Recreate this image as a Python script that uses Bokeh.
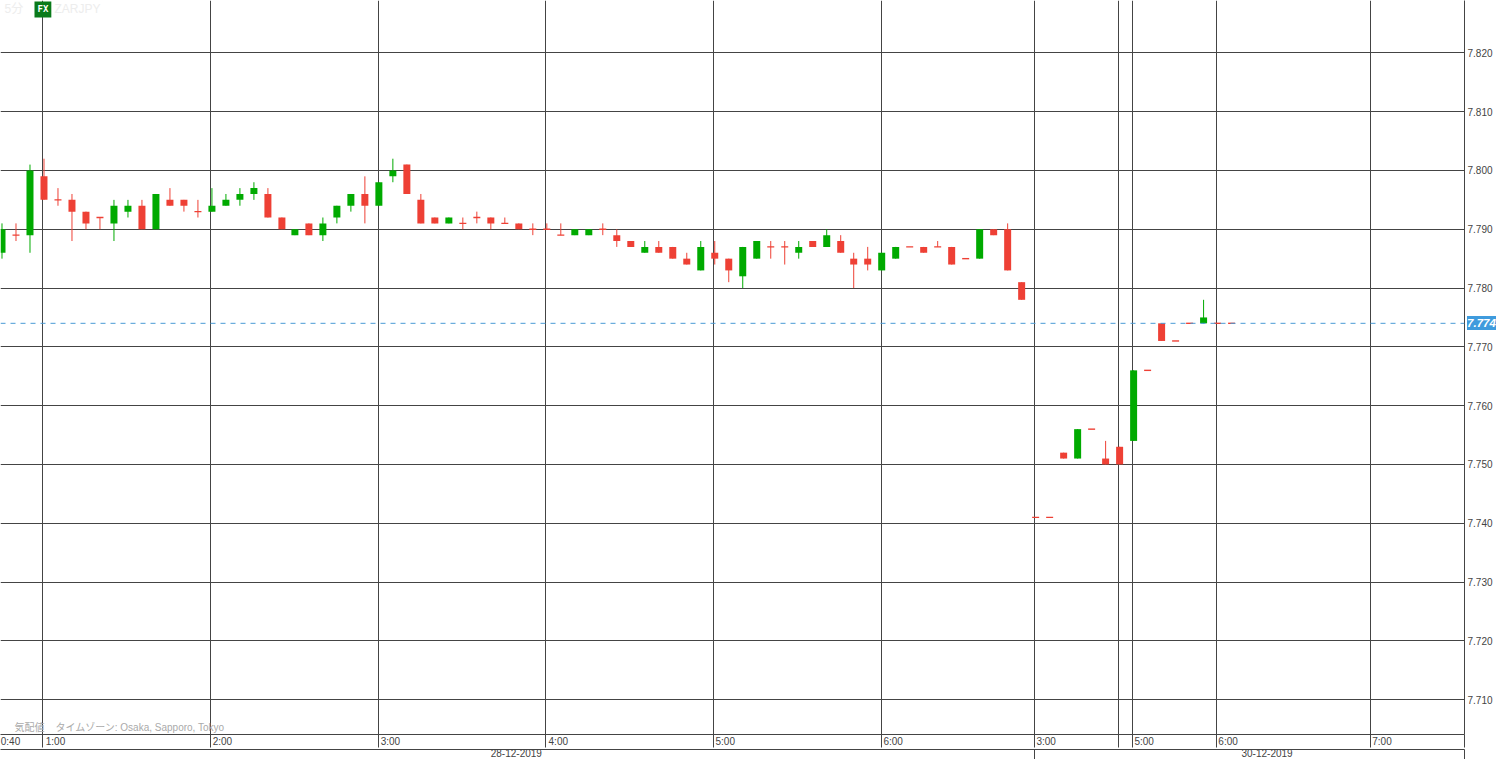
from bokeh.embed import file_html
from bokeh.resources import INLINE
from bokeh.plotting import figure
from bokeh.layouts import column
from bokeh.models import Div, LinearAxis, Range1d, FixedTicker, Grid, Label, Span, ColumnDataSource, PrintfTickFormatter

# candle values
opens = [7.786,7.789,7.789,7.799,7.795,7.795,7.793,7.792,7.791,7.793,7.794,7.790,7.795,7.795,7.793,7.793,7.794,7.795,7.796,7.796,
         7.792,7.789,7.791,7.789,7.792,7.794,7.796,7.794,7.799,7.801,7.795,7.792,7.791,7.791,7.792,7.792,7.791,7.791,7.790,7.790,
         7.789,7.789,7.789,7.790,7.789,7.788,7.786,7.787,7.787,7.785,7.783,7.786,7.785,7.782,7.785,7.787,7.787,7.786,7.788,7.787,
         7.788,7.785,7.785,7.783,7.785,7.787,7.787,7.787,7.787,7.785,7.785,7.790,7.790,7.781,7.741,7.741,7.752,7.751,7.756,7.751,
         7.753,7.754,7.766,7.774,7.771,7.774,7.774,7.774,7.774]
closes = [7.790,7.789,7.800,7.795,7.795,7.793,7.791,7.792,7.794,7.794,7.790,7.796,7.794,7.794,7.793,7.794,7.795,7.796,7.797,7.792,
          7.790,7.790,7.789,7.791,7.794,7.796,7.794,7.798,7.800,7.796,7.791,7.791,7.792,7.791,7.792,7.791,7.791,7.790,7.790,7.790,
          7.789,7.790,7.790,7.790,7.788,7.787,7.787,7.786,7.785,7.784,7.787,7.785,7.783,7.787,7.788,7.787,7.787,7.787,7.787,7.789,
          7.786,7.784,7.784,7.786,7.787,7.787,7.786,7.787,7.784,7.785,7.790,7.789,7.783,7.778,7.741,7.741,7.751,7.756,7.756,7.750,
          7.750,7.766,7.766,7.771,7.771,7.774,7.775,7.774,7.774]
highs = [7.791,7.791,7.801,7.802,7.797,7.796,7.793,7.792,7.795,7.795,7.795,7.796,7.797,7.795,7.795,7.797,7.796,7.797,7.798,7.797,
         7.792,7.790,7.791,7.792,7.794,7.796,7.799,7.798,7.802,7.801,7.796,7.792,7.792,7.792,7.793,7.792,7.792,7.791,7.791,7.791,
         7.791,7.790,7.790,7.791,7.790,7.788,7.788,7.788,7.787,7.786,7.788,7.788,7.785,7.787,7.788,7.788,7.788,7.788,7.788,7.790,
         7.789,7.786,7.787,7.786,7.787,7.787,7.787,7.788,7.787,7.785,7.790,7.790,7.791,7.781,7.741,7.741,7.752,7.756,7.756,7.754,
         7.753,7.766,7.766,7.774,7.771,7.774,7.778,7.774,7.774]
lows = [7.785,7.788,7.786,7.795,7.794,7.788,7.790,7.790,7.788,7.792,7.790,7.790,7.794,7.793,7.792,7.793,7.794,7.794,7.795,7.792,
        7.790,7.789,7.789,7.788,7.791,7.793,7.791,7.794,7.798,7.796,7.791,7.791,7.791,7.790,7.791,7.790,7.791,7.790,7.789,7.790,
        7.789,7.789,7.789,7.789,7.787,7.787,7.786,7.786,7.785,7.784,7.783,7.784,7.781,7.780,7.785,7.785,7.784,7.785,7.787,7.787,
        7.786,7.780,7.783,7.783,7.785,7.787,7.786,7.787,7.784,7.785,7.785,7.789,7.783,7.778,7.741,7.741,7.751,7.751,7.756,7.750,
        7.750,7.754,7.766,7.771,7.771,7.774,7.774,7.774,7.774]

price_ticks = [7.71,7.72,7.73,7.74,7.75,7.76,7.77,7.78,7.79,7.80,7.81,7.82]
last_price = 7.774
last_label = "7.774"
time_labels = ["0:40","1:00","2:00","3:00","4:00","5:00","6:00","3:00","5:00","6:00","7:00"]
date_labels = ["28-12-2019","30-12-2019"]

GREEN = "#00AA00"; RED = "#EE4035"; GRIDC = "#444444"; BLUE = "#4A9BD6"; TXT = "#444444"
FONT = "Liberation Sans"
W, H = 1498, 759
FRAME_H = 735
PITCH = 13.975

def slot(px):
    return (px - 1.5) / PITCH

def snap(i):
    return slot(int(1.5 + PITCH * i) + 0.5)

xs = [snap(i) for i in range(len(opens))]
half = 3.5 / PITCH

def price_at(px):
    return 7.82 - (px - 52.5) / 58.91 * 0.01

p = figure(width=W, height=H, output_backend="svg", toolbar_location=None,
           x_range=Range1d(slot(0), slot(1464.5)),
           y_range=Range1d(price_at(FRAME_H + 0.5), price_at(0)),
           x_axis_type=None, y_axis_type=None,
           min_border_left=0, min_border_top=0, min_border_right=34, min_border_bottom=0,
           background_fill_color="white", border_fill_color="white", outline_line_color=None)

# grid
line_px = [42.5, 210.5, 378.5, 545.5, 713.5, 881.5, 1034.5, 1118.5, 1132.5, 1216.5, 1370.5]
grid_x = [slot(v) for v in line_px]
p.add_layout(Grid(dimension=0, ticker=FixedTicker(ticks=grid_x), grid_line_color=GRIDC, grid_line_width=1))
p.add_layout(Grid(dimension=1, ticker=FixedTicker(ticks=price_ticks), grid_line_color=GRIDC, grid_line_width=1))

# right price axis
ya = LinearAxis(ticker=FixedTicker(ticks=price_ticks), major_tick_line_color=None, major_tick_out=0, major_tick_in=0,
                minor_tick_line_color=None, minor_tick_out=0, minor_tick_in=0,
                axis_line_color=GRIDC, major_label_text_font=FONT, major_label_text_font_size="10px",
                major_label_text_color=TXT, major_label_standoff=3,
                formatter=PrintfTickFormatter(format="%.3f"))
p.add_layout(ya, "right")

# time axis: labels sit just right of their line
label_px = [10, 55, 222, 390, 558, 725, 893, 1046, 1144, 1228, 1382]
tick_x = [slot(v) for v in label_px]
xa = LinearAxis(ticker=FixedTicker(ticks=tick_x, minor_ticks=grid_x + [slot(1464.5)]),
                major_label_overrides=dict(zip(tick_x, time_labels)),
                major_tick_line_color=None, major_tick_out=0, major_tick_in=0,
                minor_tick_line_color=GRIDC, minor_tick_out=13, minor_tick_in=0,
                axis_line_color=GRIDC, major_label_text_font=FONT, major_label_text_font_size="10px",
                major_label_text_color=TXT, major_label_standoff=-12)
p.add_layout(xa, "below")

date_px = [516, 1267]
date_x = [slot(v) for v in date_px]
xb = LinearAxis(ticker=FixedTicker(ticks=date_x, minor_ticks=[slot(1034.5), slot(1464.5)]),
                major_label_overrides=dict(zip(date_x, date_labels)),
                major_tick_line_color=None, major_tick_out=0, major_tick_in=0,
                minor_tick_line_color=GRIDC, minor_tick_out=11, minor_tick_in=0,
                axis_line_color=GRIDC, major_label_text_font=FONT, major_label_text_font_size="10px",
                major_label_text_color=TXT, major_label_standoff=-12)
p.add_layout(xb, "below")

# candles
colors = [GREEN if c > o else RED for o, c in zip(opens, closes)]
src = ColumnDataSource(dict(x=xs, h=highs, l=lows, color=colors))
p.segment("x", "h", "x", "l", source=src, line_color="color", line_width=1)
body = [i for i, (o, c) in enumerate(zip(opens, closes)) if o != c]
doji = [i for i, (o, c) in enumerate(zip(opens, closes)) if o == c]
bsrc = ColumnDataSource(dict(x=[xs[i] for i in body],
                             top=[max(opens[i], closes[i]) for i in body],
                             bottom=[min(opens[i], closes[i]) for i in body],
                             color=[colors[i] for i in body]))
p.vbar("x", 7 / PITCH, "top", "bottom", source=bsrc, fill_color="color", line_color=None)
dsrc = ColumnDataSource(dict(x0=[xs[i] - half for i in doji], x1=[xs[i] + half for i in doji],
                             y=[opens[i] for i in doji]))
p.segment("x0", "y", "x1", "y", source=dsrc, line_color=RED, line_width=1.4)

# last price
p.add_layout(Span(location=last_price, dimension="width", line_color=BLUE, line_width=1, line_dash="5 5"))

# overlays
p.add_layout(Label(x=slot(4), y=price_at(9), text="5分", text_color="#EDEDED", text_font=FONT + ", Noto Sans CJK JP",
                   text_font_size="12px", text_baseline="middle"))
p.add_layout(Label(x=slot(34), y=price_at(9), text="FX", text_color="white", text_font="DejaVu Sans Mono",
                   text_font_size="9px", text_font_style="bold", text_baseline="middle",
                   background_fill_color="#0A7A1A", padding=3))
p.add_layout(Label(x=slot(54), y=price_at(9), text="ZARJPY", text_color="#EDEDED", text_font=FONT,
                   text_font_size="12px", text_baseline="middle"))
p.add_layout(Label(x=slot(14), y=price_at(728), text="気配値", text_color="#AAAAAA", text_font=FONT + ", Noto Sans CJK JP",
                   text_font_size="10px", text_baseline="middle"))
p.add_layout(Label(x=slot(55), y=price_at(728), text="タイムゾーン: Osaka, Sapporo, Tokyo", text_color="#AAAAAA",
                   text_font=FONT + ", Noto Sans CJK JP", text_font_size="10px", text_baseline="middle"))

# last-price flag on the price axis
flag = Div(text=last_label, width=29, height=14, margin=0,
           styles={"position": "absolute", "left": "1467px", "top": "316px", "z-index": "10",
                   "background-color": "#3F9BDD", "color": "white", "font-family": FONT,
                   "font-size": "11.5px", "font-weight": "bold", "font-style": "italic",
                   "line-height": "14px", "text-align": "center", "overflow": "hidden"})

page = column(p, flag, width=W, height=H, styles={"position": "absolute", "left": "0px", "top": "0px"})
open("out.html", "w").write(file_html(page, INLINE))
